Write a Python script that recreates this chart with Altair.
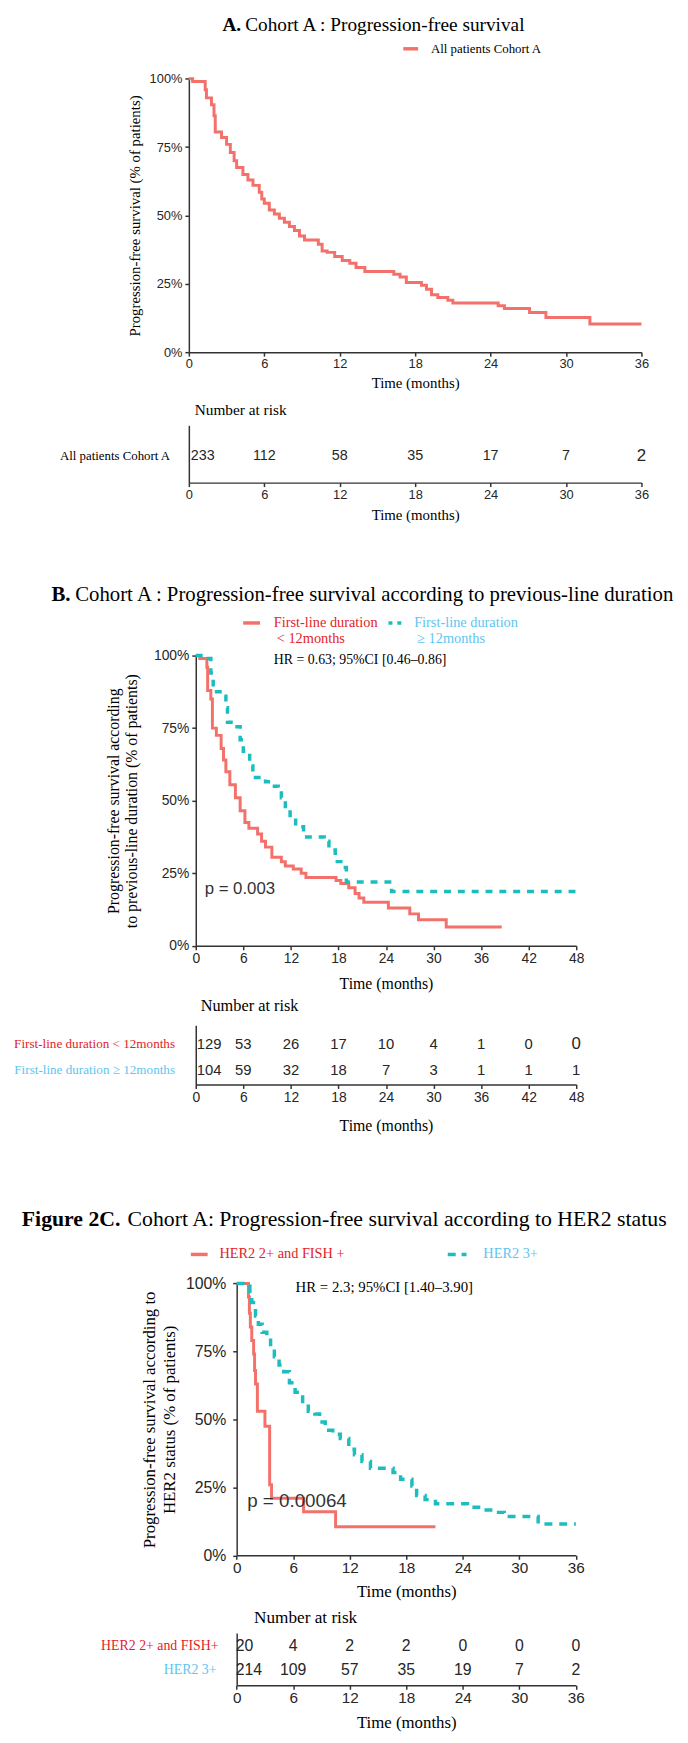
import altair as alt
import pandas as pd

# ---------------- data ----------------
# Panel A : all patients
A_TIME = [0, 0.3, 1.3, 1.4, 1.8, 2.0, 2.1, 2.6, 3.0, 3.3, 3.6, 3.8, 4.3, 4.7, 5.1, 5.6, 5.8, 6.0, 6.4, 6.8,
          7.2, 7.6, 8.0, 8.4, 8.8, 9.2, 10.3, 10.6, 11.0, 11.6, 12.2, 12.8, 13.3, 14.0, 16.3, 16.8, 17.3, 18.5,
          18.9, 19.3, 19.8, 20.6, 21.0, 24.6, 25.1, 27.1, 28.4, 31.9, 36.0]
A_SURV = [100, 99, 96, 93, 90.5, 86.5, 80.5, 78.5, 76, 73, 70, 67.5, 65, 63, 61, 58.5, 56, 54.5, 52, 50.5,
          49, 47.5, 46, 44.5, 42.5, 41, 39.5, 37, 36.5, 35, 33.5, 32.5, 31, 29.5, 28.5, 27.5, 25.5, 24.5,
          23, 21, 20, 19, 18, 17, 16, 14.5, 12.7, 10.3, 10.3]

# Panel B : first-line duration < 12 months / >= 12 months
B_SHORT_TIME = [0, 0.5, 1.4, 1.5, 1.9, 2.1, 2.6, 3.2, 3.5, 3.8, 4.3, 5.0, 5.6, 6.2, 6.7, 7.8, 8.3, 8.8, 9.6,
                10.8, 11.3, 12.3, 13.3, 13.9, 17.7, 18.3, 19.3, 20.1, 20.6, 21.2, 24.3, 27.0, 28.1, 31.6, 38.6]
B_SHORT_SURV = [100, 99, 96, 88, 85, 75, 72.5, 68, 64, 60, 55.5, 51, 46.5, 42.5, 40.5, 38.5, 36, 34, 30.5,
                29, 27.5, 26.5, 25, 23.5, 22.5, 21.5, 20, 18, 16.5, 15, 13, 11, 9, 6.5, 6.5]
B_LONG_TIME = [0, 1.6, 1.9, 2.2, 3.4, 3.8, 4.0, 5.2, 5.6, 6.0, 6.8, 7.2, 8.8, 9.5, 10.4, 10.8, 11.3, 11.9,
               12.6, 13.6, 16.2, 16.8, 17.6, 18.3, 19.0, 24.7, 48.0]
B_LONG_SURV = [100, 99, 94, 87.5, 86, 82, 77, 75.5, 71, 67, 62, 58, 56.5, 55, 54, 51, 48, 44,
               41, 37.5, 36, 33, 29, 27, 22, 18.7, 18.7]

# Panel C : HER2 2+ and FISH+ / HER2 3+
C_FISH_TIME = [0, 1.25, 1.35, 1.45, 1.6, 1.8, 1.9, 2.0, 2.2, 3.0, 3.5, 3.7, 7.1, 10.5, 21.1]
C_FISH_SURV = [100, 95, 89, 84, 79, 74, 68, 63, 53, 47.5, 26, 21, 16, 10.5, 10.5]
C_3P_TIME = [0, 1.25, 1.4, 1.6, 2.0, 2.3, 2.7, 3.2, 3.6, 4.0, 4.5, 5.0, 5.6, 6.2, 7.0, 7.6, 8.3, 8.8, 9.4,
             10.2, 11.0, 11.9, 12.5, 13.3, 14.2, 16.6, 17.4, 18.6, 19.1, 20.0, 21.1, 24.5, 25.9, 27.2, 28.4,
             32.0, 36.0]
C_3P_SURV = [100, 99, 96, 93, 88, 85, 82, 80, 77.5, 73, 70, 67.5, 63.5, 60, 55.5, 53, 52, 49, 46,
             44.5, 43, 39, 37, 34.5, 32, 30.5, 28, 25.5, 22, 20.5, 19, 17.7, 16.7, 15.8, 14.3,
             11.5, 11.5]

# Number at risk
A_RISK_T = [0, 6, 12, 18, 24, 30, 36]
A_RISK_ALL = [233, 112, 58, 35, 17, 7, 2]
B_RISK_T = [0, 6, 12, 18, 24, 30, 36, 42, 48]
B_RISK_SHORT = [129, 53, 26, 17, 10, 4, 1, 0, 0]
B_RISK_LONG = [104, 59, 32, 18, 7, 3, 1, 1, 1]
C_RISK_T = [0, 6, 12, 18, 24, 30, 36]
C_RISK_FISH = [20, 4, 2, 2, 0, 0, 0]
C_RISK_3P = [214, 109, 57, 35, 19, 7, 2]

# Ticks
Y_TICKS = [0, 25, 50, 75, 100]
X_TICKS_36 = [0, 6, 12, 18, 24, 30, 36]
X_TICKS_48 = [0, 6, 12, 18, 24, 30, 36, 42, 48]

# Texts
TITLE_A = ["A.", "Cohort A : Progression-free survival"]
TITLE_B = ["B.", "Cohort A : Progression-free survival according to previous-line duration"]
TITLE_C = ["Figure 2C.", "Cohort A: Progression-free survival according to HER2 status"]
LEG_A = "All patients Cohort A"
LEG_B = ["First-line duration", "< 12months", "First-line duration", "\u2265 12months"]
LEG_C = ["HER2 2+ and FISH +", "HER2 3+"]
ROW_B = ["First-line duration < 12months", "First-line duration \u2265 12months"]
ROW_C = ["HER2 2+ and FISH+", "HER2 3+"]
HR_B = "HR = 0.63; 95%CI [0.46\u20130.86]"
HR_C = "HR = 2.3; 95%CI [1.40\u20133.90]"
P_B = "p = 0.003"
P_C = "p = 0.00064"
YT_A = "Progression-free survival (% of patients)"
YT_B = ["Progression-free survival according", "to previous-line duration (% of patients)"]
YT_C = ["Progression-free survival according to", "HER2 status (% of patients)"]
XT = "Time (months)"
NAR = "Number at risk"

# ---------------- style / layout ----------------
W, H = 680, 1727
SERIF = "Liberation Serif"
SANS = "Liberation Sans"
AXC = "#333333"
LBL = "#262626"
RED = "#F4716B"
TEAL = "#1CBDBE"
RED_TXT = "#E3231F"
BLUE_TXT = "#5EC5F0"


def xs(rng, xmax):
    return alt.Scale(domain=[0, xmax], range=rng, nice=False, zero=False)


def ys(rng, dom):
    return alt.Scale(domain=dom, range=rng, nice=False, zero=False)


def xaxis(values, ybot, lsize, lpad, tsize, tpad):
    return alt.Axis(orient="bottom", offset=ybot - H, values=values, format="d", grid=False,
                    domainColor=AXC, domainWidth=1.5, tickColor=AXC, tickWidth=1.5, tickSize=4,
                    labelFont=SANS, labelFontSize=lsize, labelColor=LBL, labelPadding=lpad,
                    labelFlush=False, labelOverlap=False, labelAngle=0,
                    title=XT, titleFont=SERIF, titleFontSize=tsize, titleFontWeight="normal",
                    titleColor="black", titlePadding=tpad)


def yaxis(xleft, lsize, lpad, title, tsize, tpad, lh):
    return alt.Axis(orient="left", offset=-xleft, values=Y_TICKS, labelExpr="datum.value + '%'",
                    grid=False, domainColor=AXC, domainWidth=1.5, tickColor=AXC, tickWidth=1.5,
                    tickSize=4, labelFont=SANS, labelFontSize=lsize, labelColor=LBL,
                    labelPadding=lpad, labelFlush=False, labelOverlap=False,
                    title=title, titleFont=SERIF, titleFontSize=tsize, titleFontWeight="normal",
                    titleColor="black", titlePadding=tpad, titleLineHeight=lh)


def risk_yaxis(xleft):
    return alt.Axis(orient="left", offset=-xleft, grid=False, domainColor=AXC, domainWidth=1.5,
                    ticks=False, labels=False, title=None)


def km(times, surv, xsc, ysc, color, dash=None, xax=None, yax=None, width=3):
    df = pd.DataFrame({"t": times, "s": surv})
    kw = dict(interpolate="step-after", color=color, strokeWidth=width)
    if dash:
        kw["strokeDash"] = dash
    return alt.Chart(df).mark_line(**kw).encode(
        x=alt.X("t:Q", scale=xsc, axis=xax),
        y=alt.Y("s:Q", scale=ysc, axis=yax),
    )


def risk(times, counts, row, xsc, ysc, dx0, size, big_t=None, xax=None, yax=None):
    df = pd.DataFrame({"t": times, "n": counts, "row": [row] * len(times)})
    first = alt.Chart(df).transform_filter("datum.t == 0").mark_text(
        align="left", baseline="middle", dx=dx0, font=SANS, fontSize=size, color=LBL
    ).encode(x=alt.X("t:Q", scale=xsc, axis=xax), y=alt.Y("row:Q", scale=ysc, axis=yax),
             text=alt.Text("n:Q", format="d"))
    if big_t is not None:
        sz = alt.condition(f"datum.t == {big_t}", alt.value(17), alt.value(size))
    else:
        sz = alt.value(size)
    rest = alt.Chart(df).transform_filter("datum.t > 0").mark_text(
        align="center", baseline="middle", font=SANS, color=LBL
    ).encode(x=alt.X("t:Q", scale=xsc, axis=None), y=alt.Y("row:Q", scale=ysc, axis=None),
             text=alt.Text("n:Q", format="d"), size=sz)
    return [first, rest]


def row_label(text, row, x, ysc, color, size):
    df = pd.DataFrame({"txt": [text], "row": [row]})
    return alt.Chart(df).mark_text(align="right", baseline="middle", font=SERIF, fontSize=size,
                                   color=color).encode(
        x=alt.value(x), y=alt.Y("row:Q", scale=ysc, axis=None), text="txt:N")


def label(text, x, y, size, color="black", font=SERIF, weight="normal", align="left"):
    df = pd.DataFrame({"txt": [text]})
    return alt.Chart(df).mark_text(align=align, baseline="middle", font=font, fontSize=size,
                                   fontWeight=weight, color=color).encode(
        x=alt.value(x), y=alt.value(y), text="txt:N")


def swatch(x1, x2, y, color, dash=None, width=3.5):
    kw = dict(color=color, strokeWidth=width)
    if dash:
        kw["strokeDash"] = dash
    return alt.Chart(pd.DataFrame({"k": [0]})).mark_rule(**kw).encode(
        x=alt.value(x1), x2=alt.value(x2), y=alt.value(y))


layers = []

# ---------------- Panel A ----------------
ax_a = xs([183, 641], 36)
ay_a = ys([338, 61.3], [0, 100])
layers.append(km(A_TIME, A_SURV, ax_a, ay_a, RED,
                 xax=xaxis(X_TICKS_36, 338, 13, 2, 15, 5),
                 yax=yaxis(183, 13, 3, YT_A, 15, 7, 18)))
ary_a = ys([470, 412], [0, 2.15])
layers += risk(A_RISK_T, A_RISK_ALL, 1, ax_a, ary_a, 2, 14.5, big_t=36,
               xax=xaxis(X_TICKS_36, 470, 13, 2, 15, 6), yax=risk_yaxis(183))
layers.append(row_label(LEG_A, 1, 164, ary_a, "black", 13))
layers.append(label(NAR, 189, 397, 15.5))
layers.append(label(TITLE_A[0], 217, 7, 19.5, weight="bold"))
layers.append(label(TITLE_A[1], 240, 7, 19.5))
layers.append(swatch(400, 415, 31, RED))
layers.append(label(LEG_A, 428, 31, 13))

# ---------------- Panel B ----------------
ax_b = xs([190, 575], 48)
ay_b = ys([938.7, 645], [0, 100])
layers.append(km(B_SHORT_TIME, B_SHORT_SURV, ax_b, ay_b, RED,
                 xax=xaxis(X_TICKS_48, 938.7, 14, 2, 16, 10),
                 yax=yaxis(190, 14, 3, YT_B, 16, 14, 18)))
layers.append(km(B_LONG_TIME, B_LONG_SURV, ax_b, ay_b, TEAL, dash=[7, 7], width=3.5))
ary_b = ys([1079, 1019], [0.423, 2.731])
layers += risk(B_RISK_T, B_RISK_SHORT, 2, ax_b, ary_b, 1, 15, big_t=48,
               xax=xaxis(X_TICKS_48, 1079, 14, 2, 16, 14), yax=risk_yaxis(190))
layers += risk(B_RISK_T, B_RISK_LONG, 1, ax_b, ary_b, 1, 15)
layers.append(row_label(ROW_B[0], 2, 169, ary_b, RED_TXT, 13.3))
layers.append(row_label(ROW_B[1], 1, 169, ary_b, BLUE_TXT, 13.3))
layers.append(label(NAR, 195, 1000, 16.5))
layers.append(label(TITLE_B[0], 44, 584, 21, weight="bold"))
layers.append(label(TITLE_B[1], 68, 584, 21))
layers.append(swatch(238, 255, 612, RED))
layers.append(label(LEG_B[0], 269, 612, 14.5, color=RED_TXT))
layers.append(label(LEG_B[1], 272, 628, 14.5, color=RED_TXT))
layers.append(swatch(385, 398, 612, TEAL, dash=[4, 5]))
layers.append(label(LEG_B[2], 411, 612, 14.5, color=BLUE_TXT))
layers.append(label(LEG_B[3], 414, 628, 14.5, color=BLUE_TXT))
layers.append(label(HR_B, 269, 650, 14))
layers.append(label(P_B, 199, 881, 17, color="#333333", font=SANS))

# ---------------- Panel C ----------------
ax_c = xs([231.4, 574.6], 36)
ay_c = ys([1555.5, 1280.3], [0, 100])
layers.append(km(C_FISH_TIME, C_FISH_SURV, ax_c, ay_c, RED,
                 xax=xaxis(X_TICKS_36, 1555.5, 15.5, 1, 17, 8),
                 yax=yaxis(231.4, 16, 7, YT_C, 17, 7, 20)))
layers.append(km(C_3P_TIME, C_3P_SURV, ax_c, ay_c, TEAL, dash=[8, 7], width=3.5))
ary_c = ys([1687, 1634], [0.4, 2.52])
layers += risk(C_RISK_T, C_RISK_FISH, 2, ax_c, ary_c, -1, 16,
               xax=xaxis(X_TICKS_36, 1687, 15.5, 1.5, 17, 9), yax=risk_yaxis(231.4))
layers += risk(C_RISK_T, C_RISK_3P, 1, ax_c, ary_c, -1, 16)
layers.append(row_label(ROW_C[0], 2, 213, ary_c, RED_TXT, 14))
layers.append(row_label(ROW_C[1], 1, 211, ary_c, BLUE_TXT, 14))
layers.append(label(NAR, 249, 1619, 17.4))
layers.append(label(TITLE_C[0], 14, 1215, 22, weight="bold"))
layers.append(label(TITLE_C[1], 121, 1215, 22))
layers.append(swatch(185, 202, 1251, RED))
layers.append(label(LEG_C[0], 214, 1251, 14.5, color=RED_TXT))
layers.append(swatch(445, 464, 1251, TEAL, dash=[8, 6]))
layers.append(label(LEG_C[1], 481, 1251, 14.5, color=BLUE_TXT))
layers.append(label(HR_C, 291, 1284, 15))
layers.append(label(P_C, 242, 1501, 19, color="#333333", font=SANS))

chart = alt.layer(*layers).resolve_scale(x="independent", y="independent").properties(
    width=W, height=H, autosize=alt.AutoSizeParams(type="none"), padding=0, background="white"
).configure_view(stroke="transparent")

chart.save("out.html", embed_options={"renderer": "svg", "actions": False})
